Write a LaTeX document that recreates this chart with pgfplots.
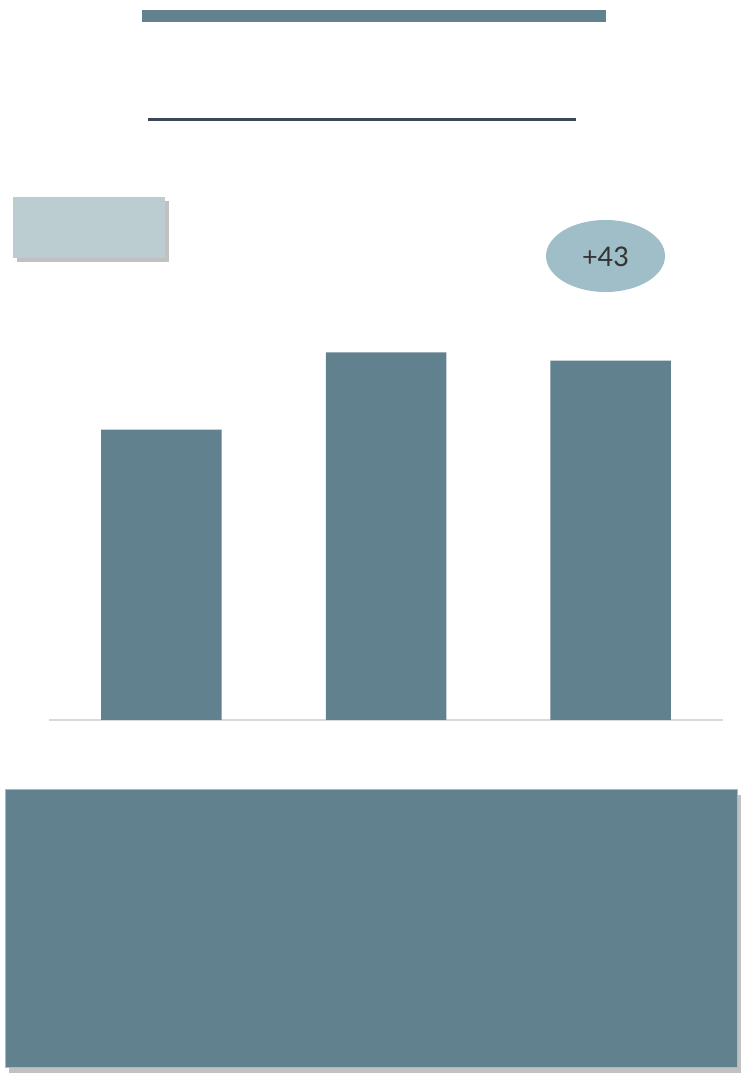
\documentclass[border=0pt]{standalone}
\usepackage{pgfplots}
\pgfplotsset{compat=1.18}
\usepackage{fontspec}
\setmainfont{Lato}
\usetikzlibrary{shadows}
\definecolor{barc}{HTML}{62818F}
\definecolor{lightbox}{HTML}{BBCDD1}
\definecolor{ellc}{HTML}{9FBEC7}
\definecolor{darkline}{HTML}{3B4656}
\definecolor{axisgray}{HTML}{D9D9D9}
\begin{document}
\begin{tikzpicture}[x=1pt,y=1pt]
\path[use as bounding box, fill=white] (0,0) rectangle (741,1081);
% top banner
\fill[barc] (142,1059) rectangle (606,1071);
% dark rule
\draw[darkline, line width=3pt] (148,961.5) -- (576,961.5);
% light box with shadow
\fill[lightbox, drop shadow={shadow xshift=4pt, shadow yshift=-4pt, opacity=0.4, fill=black!60}] (13,823) rectangle (165,884);
% ellipse
\fill[ellc] (605.5,825) ellipse [x radius=59.5, y radius=36];
\node[font=\fontsize{27}{30}\selectfont, text=black!80] at (605.5,824) {+43};
% bottom panel
\draw[ellc, line width=1pt, fill=barc, drop shadow={shadow xshift=4pt, shadow yshift=-5pt, opacity=0.4, fill=black!60}] (5,13) rectangle (737,291);
\begin{axis}[
  at={(49pt,361pt)}, anchor=south west,
  scale only axis, width=674pt, height=401.2pt,
  xmin=-0.5, xmax=2.5, ymin=0, ymax=250,
  axis x line=bottom, axis y line=none,
  x axis line style={-, draw=axisgray, line width=1.5pt},
  xtick=\empty, ytick=\empty,
  ybar, bar width=120.5pt,
  clip=false,
]
\addplot[fill=barc, draw=none] coordinates {(0,181) (1,229) (2,224)};
\end{axis}
\end{tikzpicture}
\end{document}
